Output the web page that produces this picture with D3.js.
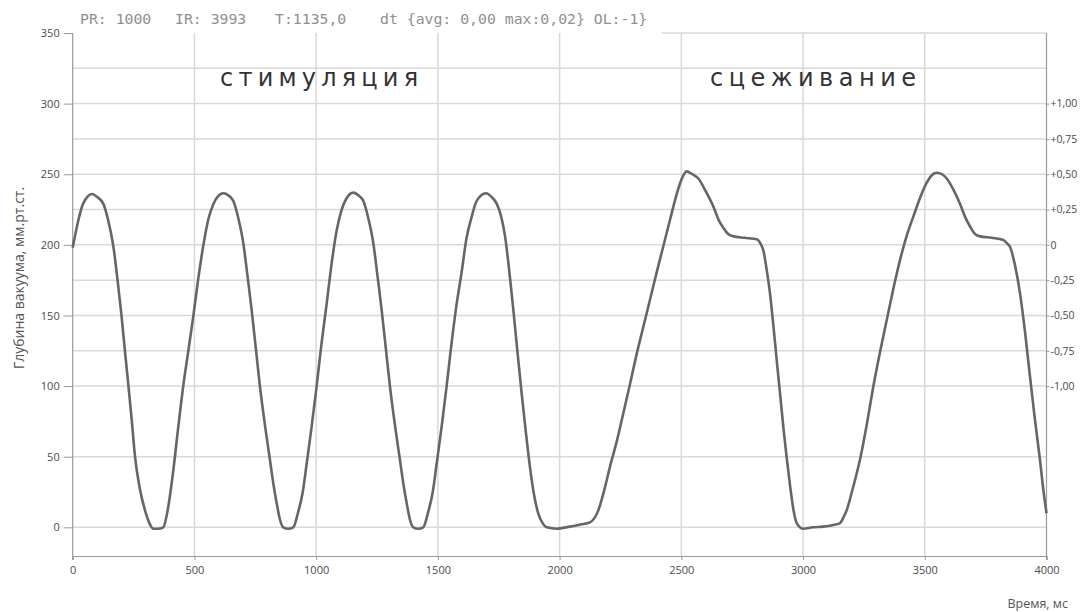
<!DOCTYPE html>
<html>
<head>
<meta charset="utf-8">
<script src="https://cdn.jsdelivr.net/npm/d3@7"></script>
<style>
  html, body { margin: 0; padding: 0; background: #fff; }
  svg { display: block; }
</style>
</head>
<body>
<svg id="chart" width="1082" height="612"></svg>
<script>
// Vacuum depth trace: time (ms) and depth (mmHg)
const timeMs = [
  0, 20, 40, 60, 80, 100, 126, 145, 167, 185, 201, 215, 229, 243, 256, 275, 297, 315, 331, 350, 372,
  390, 413, 433, 454, 475, 495, 515, 536, 557, 578, 600, 619, 640, 660, 680, 701, 718, 735, 752, 769,
  790, 810, 825, 838, 852, 865, 885, 906, 925, 945, 961, 982, 1002, 1022, 1043, 1063, 1084, 1105, 1125,
  1153, 1174, 1194, 1214, 1235, 1252, 1269, 1286, 1303, 1324, 1344, 1359, 1372, 1386, 1399, 1419, 1440,
  1459, 1479, 1495, 1516, 1536, 1556, 1577, 1597, 1618, 1639, 1659, 1698, 1720, 1742, 1760, 1776, 1793,
  1810, 1827, 1844, 1861, 1878, 1895, 1912, 1930, 1947, 1988, 2042, 2085, 2125, 2145, 2159, 2183, 2207,
  2235, 2262, 2290, 2317, 2344, 2371, 2398, 2426, 2454, 2481, 2500, 2522, 2545, 2570, 2600, 2632, 2655,
  2673, 2690, 2714, 2760, 2810, 2825, 2837, 2850, 2864, 2878, 2892, 2906, 2919, 2933, 2947, 2960, 2974,
  3001, 3040, 3083, 3120, 3152, 3166, 3179, 3205, 3234, 3262, 3289, 3316, 3344, 3371, 3398, 3425, 3453,
  3480, 3508, 3530, 3549, 3570, 3590, 3618, 3645, 3665, 3686, 3705, 3727, 3775, 3823, 3838, 3850, 3870,
  3891, 3912, 3932, 3952, 3973, 3986, 4000
];
const depthMmHg = [
  198, 215, 228, 234, 236, 234, 229, 218, 199, 174, 149, 124, 100, 75, 50, 28, 12, 3, -1, -1, 0,
  12, 40, 70, 100, 125, 149, 175, 199, 218, 229, 235, 236.5, 235, 231, 219, 201, 178, 154, 127, 100,
  72, 48, 30, 17, 5, 0, -1, 0, 10, 25, 45, 72, 100, 130, 158, 186, 210, 225, 233,
  237, 235, 231, 219, 201, 178, 154, 127, 100, 72, 48, 30, 17, 5, 0, -1, 0,
  10, 25, 45, 72, 100, 130, 158, 180, 205, 220, 231, 236.5, 234, 229, 220, 206, 182,
  154, 124, 95, 68, 43, 23, 10, 3, 0, -1, 0.5, 2, 3.5, 7, 12, 26, 43,
  61, 81, 102, 123, 142, 161, 180, 199, 218, 236, 246, 252, 250, 247, 238, 227, 217,
  212, 208, 206, 205, 204, 201, 196, 183, 166, 143, 118, 94, 71, 49, 29, 13, 3,
  -1, 0, 0.5, 1.5, 3, 7, 12, 28, 48, 73, 100, 124, 147, 169, 189, 206, 220,
  233, 244, 249.5, 251, 250, 247, 239, 229, 220, 213, 208, 206, 205, 203.5, 201, 198.7, 186,
  166, 138, 107, 77, 48, 28, 10
];

// Axis ticks
const xTicks = [0, 500, 1000, 1500, 2000, 2500, 3000, 3500, 4000];
const yTicks = [0, 50, 100, 150, 200, 250, 300, 350];
const yGridMinor = [100, 125, 150, 175, 200, 225, 250, 275, 300, 325];
const rightTicks = [1, 0.75, 0.5, 0.25, 0, -0.25, -0.5, -0.75, -1];
const rightTickLabels = ["+1,00", "+0,75", "+0,50", "+0,25", "0", "-0,25", "-0,50", "-0,75", "-1,00"];

// Header readout and phase labels
const headerParts = ["PR: 1000", "IR: 3993", "T:1135,0", "dt {avg: 0,00 max:0,02} OL:-1}"];
const headerX = [80, 175, 275, 380];
const phaseLabels = ["стимуляция", "сцеживание"];
const phaseCenters = [1012, 3041];
const phaseWidths = [198, 206];

const svg = d3.select("#chart");
const plotLeft = 72.7, plotRight = 1046.5, plotTop = 33, plotBottom = 556;

const x = d3.scaleLinear().domain([0, 4000]).range([plotLeft, plotRight]);
const y = d3.scaleLinear().domain([-20.3, 350]).range([plotBottom, plotTop]);
const yRight = d3.scaleLinear().domain([-1, 1]).range([y(100), y(300)]);

const gridColor = "#d9d9d9";
const axisColor = "#9a9a9a";

// Horizontal grid
const hLines = Array.from(new Set([...yGridMinor, 50, 0]));
svg.append("g").selectAll("line").data(hLines).join("line")
  .attr("x1", plotLeft).attr("x2", plotRight)
  .attr("y1", d => y(d)).attr("y2", d => y(d))
  .attr("stroke", gridColor).attr("stroke-width", 1.5);

// Top border segment on the right part
svg.append("line")
  .attr("x1", x(2420)).attr("x2", plotRight)
  .attr("y1", y(350)).attr("y2", y(350))
  .attr("stroke", gridColor).attr("stroke-width", 1.5);

// Vertical grid
svg.append("g").selectAll("line").data(xTicks.slice(1, -1)).join("line")
  .attr("x1", d => x(d)).attr("x2", d => x(d))
  .attr("y1", plotTop).attr("y2", plotBottom)
  .attr("stroke", gridColor).attr("stroke-width", 1.5);

// Left axis
const gLeft = svg.append("g").attr("transform", `translate(${plotLeft},0)`)
  .call(d3.axisLeft(y).tickValues(yTicks).tickSize(9).tickPadding(4).tickFormat(d3.format("d")));
gLeft.select(".domain").remove();
gLeft.selectAll(".tick line").attr("stroke", axisColor);
gLeft.selectAll(".tick text").attr("fill", "#4a4a4a").style("font", "11px 'Open Sans', sans-serif");
svg.append("line").attr("x1", plotLeft).attr("x2", plotLeft).attr("y1", plotTop).attr("y2", plotBottom + 4)
  .attr("stroke", axisColor).attr("stroke-width", 1.2);

// Right axis
const gRight = svg.append("g").attr("transform", `translate(${plotRight},0)`)
  .call(d3.axisRight(yRight).tickValues(rightTicks).tickSize(3).tickPadding(1)
    .tickFormat((d, i) => rightTickLabels[i]));
gRight.select(".domain").remove();
gRight.selectAll(".tick line").attr("stroke", axisColor);
gRight.selectAll(".tick text").attr("fill", "#4a4a4a").style("font", "10.5px 'Open Sans', sans-serif");
svg.append("line").attr("x1", plotRight).attr("x2", plotRight).attr("y1", plotTop).attr("y2", plotBottom + 4)
  .attr("stroke", axisColor).attr("stroke-width", 1.2);

// Bottom axis
const gBottom = svg.append("g").attr("transform", `translate(0,${plotBottom})`)
  .call(d3.axisBottom(x).tickValues(xTicks).tickSize(4).tickPadding(6).tickFormat(d3.format("d")));
gBottom.select(".domain").attr("stroke", axisColor).attr("stroke-width", 1.2);
gBottom.selectAll(".tick line").attr("stroke", axisColor);
gBottom.selectAll(".tick text").attr("fill", "#4a4a4a")
  .style("font", "11px 'Liberation Sans Narrow', 'Open Sans', sans-serif");

// Axis titles
svg.append("text")
  .attr("transform", "translate(24,278) rotate(-90)")
  .attr("text-anchor", "middle")
  .attr("fill", "#555")
  .style("font", "14px 'Open Sans', sans-serif")
  .text("Глубина вакуума, мм.рт.ст.");

svg.append("text")
  .attr("x", 1068).attr("y", 608)
  .attr("text-anchor", "end")
  .attr("fill", "#555")
  .style("font", "12.5px 'Liberation Sans Narrow', 'Open Sans', sans-serif")
  .text("Время, мс");

// Header readout
svg.append("g").selectAll("text").data(headerParts).join("text")
  .attr("x", (d, i) => headerX[i]).attr("y", 24)
  .attr("fill", "#8f8f8f")
  .style("font", "14.8px 'DejaVu Sans Mono', monospace")
  .text(d => d);

// Phase labels
svg.append("g").selectAll("text").data(phaseLabels).join("text")
  .attr("x", (d, i) => x(phaseCenters[i])).attr("y", 86)
  .attr("text-anchor", "middle")
  .attr("fill", "#333")
  .attr("textLength", (d, i) => phaseWidths[i])
  .attr("lengthAdjust", "spacing")
  .style("font", "400 24px 'DejaVu Sans', sans-serif")
  .text(d => d);

// Trace
const points = timeMs.map((t, i) => [t, depthMmHg[i]]);
const line = d3.line().x(d => x(d[0])).y(d => y(d[1])).curve(d3.curveMonotoneX);
svg.append("path")
  .datum(points)
  .attr("fill", "none")
  .attr("stroke", "#666")
  .attr("stroke-width", 2.6)
  .attr("stroke-linejoin", "round")
  .attr("d", line);
</script>
</body>
</html>
